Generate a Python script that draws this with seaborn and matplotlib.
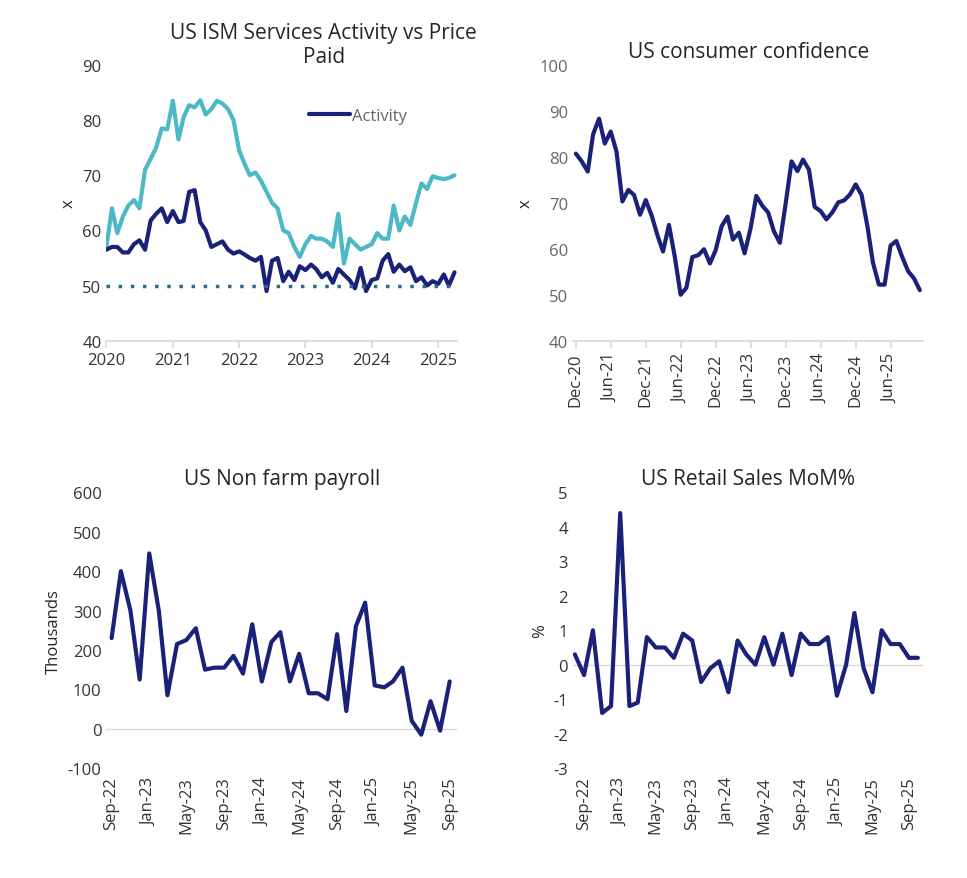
import numpy as np
import pandas as pd
import matplotlib
matplotlib.use("Agg")
import matplotlib.pyplot as plt
import matplotlib.dates as mdates
import seaborn as sns

activity = [56.5,57,57,56,56,57.5,58.2,56.5,61.8,63,64,61.5,
            63.5,61.5,61.7,67,67.3,61.5,60,57,57.5,58,56.5,55.8,
            56.2,55.6,55,54.5,55.2,49,54.5,55,50.8,52.5,51,53.5,
            52.8,53.8,53,51.5,52.3,50.5,53,52,51,49.5,53.2,49,
            51,51.3,54.5,55.7,52.5,53.8,52.6,53.3,50.8,51.5,50,50.8,
            50.3,52,50,52.4]
prices = [57,64,59.5,62.5,64.5,65.5,64,71,73,75,78.5,78.3,
          83.5,76.5,80.5,82.7,82.3,83.6,81,82,83.5,83,82,80,
          74.5,72,70,70.5,69,67,65,64,60,59.5,57,55.2,
          57.5,59,58.5,58.5,58,57,63,54,58.5,57.5,56.5,57,
          57.5,59.5,58.5,58.5,64.5,60,62.5,61,65,68.5,67.5,69.8,
          69.5,69.3,69.5,70]
ism_dates = pd.date_range("2020-01-01", periods=len(activity), freq="MS")

confidence = [80.7,79,76.8,84.9,88.3,82.9,85.5,81.2,70.3,72.8,71.7,67.4,70.6,
              67.2,62.8,59.4,65.2,58.4,50,51.5,58.2,58.6,59.9,56.8,59.7,
              64.9,67,62,63.5,59,64.4,71.5,69.4,67.9,63.8,61.3,69.7,
              79,76.9,79.4,77.2,69.1,68.2,66.4,67.9,70.1,70.5,71.8,74,
              71.7,64.7,57,52.2,52.2,60.7,61.7,58.2,55.1,53.6,51]
conf_dates = pd.date_range("2020-12-01", periods=len(confidence), freq="MS")

payrolls = [230,400,300,125,445,300,85,215,225,255,150,155,155,185,140,265,120,220,
            245,120,190,90,90,75,240,45,260,320,110,105,120,155,20,-15,70,-5,120]
nfp_dates = pd.date_range("2022-09-01", periods=len(payrolls), freq="MS")

retail = [0.3,-0.3,1.0,-1.4,-1.2,4.4,-1.2,-1.1,0.8,0.5,0.5,0.2,0.9,0.7,-0.5,-0.1,0.1,
          -0.8,0.7,0.3,0.0,0.8,0.0,0.9,-0.3,0.9,0.6,0.6,0.8,-0.9,0.0,1.5,-0.1,-0.8,
          1.0,0.6,0.6,0.2,0.2]
rs_dates = pd.date_range("2022-08-01", periods=len(retail), freq="MS")

sns.set_theme(style="white")
plt.rcParams['font.family'] = ['Open Sans', 'DejaVu Sans']
plt.rcParams['axes.unicode_minus'] = False
NAVY = "#1a2178"
TEAL = "#4db8c6"

fig, axes = plt.subplots(2, 2, figsize=(9.67, 8.79), dpi=100)
fig.subplots_adjust(left=0.11, right=0.955, top=0.925, bottom=0.125, wspace=0.33, hspace=0.55)

def style(ax, bottom_visible=True):
    for s in ["top", "right", "left"]:
        ax.spines[s].set_visible(False)
    ax.spines["bottom"].set_color("#d9d9d9")
    ax.spines["bottom"].set_visible(bottom_visible)
    ax.tick_params(axis="both", labelsize=12, colors="#333333", length=0)
    if bottom_visible:
        ax.tick_params(axis="x", length=5, color="#d9d9d9", bottom=True)

# Panel 1
ax = axes[0, 0]
df1 = pd.DataFrame({"date": ism_dates, "Activity": activity, "Prices": prices})
sns.lineplot(data=df1, x="date", y="Prices", ax=ax, color=TEAL, lw=3, label="_nolegend_")
sns.lineplot(data=df1, x="date", y="Activity", ax=ax, color=NAVY, lw=3, label="Activity")
ax.plot(df1["date"], [50]*len(df1), ls=(0, (1, 2.5)), color="#2e6b8a", lw=2.5)
ax.set_ylim(40, 90)
ax.set_xlim(pd.Timestamp("2020-01-01"), pd.Timestamp("2025-04-15"))
ax.xaxis.set_major_locator(mdates.YearLocator())
ax.xaxis.set_major_formatter(mdates.DateFormatter("%Y"))
ax.set_title("US ISM Services Activity vs Price\nPaid", fontsize=15, x=0.62, pad=2)
ax.set_xlabel("")
ax.set_ylabel("x", fontsize=12)
leg = ax.legend(loc="upper right", bbox_to_anchor=(0.9, 0.9), frameon=False, fontsize=12,
                handlelength=2.5, handletextpad=0.1)
for t in leg.get_texts():
    t.set_color("#666666")
style(ax)

# Panel 2
ax = axes[0, 1]
df2 = pd.DataFrame({"date": conf_dates, "v": confidence})
sns.lineplot(data=df2, x="date", y="v", ax=ax, color=NAVY, lw=3)
ax.set_ylim(40, 100)
ax.set_xlim(pd.Timestamp("2020-11-15"), pd.Timestamp("2025-11-20"))
ax.xaxis.set_major_locator(mdates.MonthLocator(bymonth=[6, 12]))
ax.xaxis.set_major_formatter(mdates.DateFormatter("%b-%y"))
ax.set_title("US consumer confidence", fontsize=15)
ax.set_xlabel("")
ax.set_ylabel("x", fontsize=12)
style(ax)
ax.tick_params(axis="y", colors="#666666")
plt.setp(ax.get_xticklabels(), rotation=90)

# Panel 3
ax = axes[1, 0]
df3 = pd.DataFrame({"date": nfp_dates, "v": payrolls})
sns.lineplot(data=df3, x="date", y="v", ax=ax, color=NAVY, lw=3)
ax.set_ylim(-100, 600)
ax.set_xlim(pd.Timestamp("2022-08-15"), pd.Timestamp("2025-09-25"))
ax.axhline(0, color="#d9d9d9", lw=1, zorder=0)
ax.xaxis.set_major_locator(mdates.MonthLocator(bymonth=[1, 5, 9]))
ax.xaxis.set_major_formatter(mdates.DateFormatter("%b-%y"))
ax.set_title("US Non farm payroll", fontsize=15)
ax.set_xlabel("")
ax.set_ylabel("Thousands", fontsize=12)
style(ax, bottom_visible=False)
plt.setp(ax.get_xticklabels(), rotation=90)
ax.tick_params(axis="x", pad=6)

# Panel 4
ax = axes[1, 1]
df4 = pd.DataFrame({"date": rs_dates, "v": retail})
sns.lineplot(data=df4, x="date", y="v", ax=ax, color=NAVY, lw=3)
ax.set_ylim(-3, 5)
ax.set_xlim(pd.Timestamp("2022-07-25"), pd.Timestamp("2025-10-20"))
ax.axhline(0, color="#d9d9d9", lw=1, zorder=0)
ax.xaxis.set_major_locator(mdates.MonthLocator(bymonth=[1, 5, 9]))
ax.xaxis.set_major_formatter(mdates.DateFormatter("%b-%y"))
ax.set_title("US Retail Sales MoM%", fontsize=15)
ax.set_xlabel("")
ax.set_ylabel("%", fontsize=12)
style(ax, bottom_visible=False)
plt.setp(ax.get_xticklabels(), rotation=90)
ax.tick_params(axis="x", pad=6)

fig.savefig("out.png", dpi=100)
